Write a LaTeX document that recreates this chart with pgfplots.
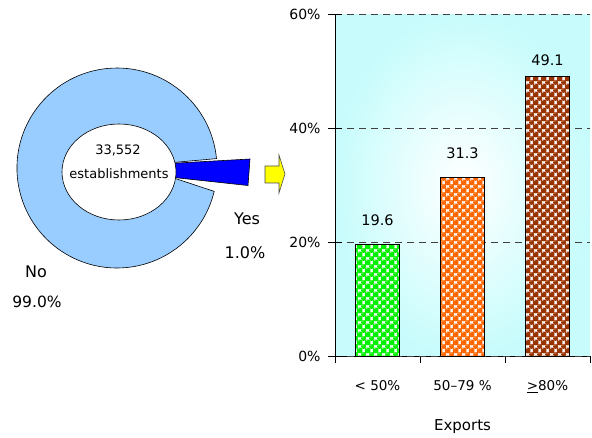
\documentclass[border=0pt]{standalone}
\usepackage{fontspec}
\setmainfont{DejaVu Sans}
\usepackage{pgfplots}
\pgfplotsset{compat=1.18}
\usetikzlibrary{patterns}

\definecolor{ringblue}{HTML}{99CCFF}
\definecolor{wedgeblue}{HTML}{0000FF}
\definecolor{arrowyellow}{HTML}{FFFF00}
\definecolor{bgcyan}{HTML}{C8FCFC}
\definecolor{gridgray}{HTML}{404040}
\definecolor{bargreen}{HTML}{00F000}
\definecolor{barorange}{HTML}{FF6600}
\definecolor{barbrown}{HTML}{993300}

% little balls on a checker, as in the bars
\pgfdeclarepatternformonly{bubbles}{\pgfpointorigin}{\pgfpoint{8bp}{8bp}}{\pgfpoint{8bp}{8bp}}{%
  \pgfpathcircle{\pgfpoint{0bp}{0bp}}{2.8bp}%
  \pgfpathcircle{\pgfpoint{8bp}{0bp}}{2.8bp}%
  \pgfpathcircle{\pgfpoint{0bp}{8bp}}{2.8bp}%
  \pgfpathcircle{\pgfpoint{8bp}{8bp}}{2.8bp}%
  \pgfpathcircle{\pgfpoint{4bp}{4bp}}{2.8bp}%
  \pgfusepath{fill}}
\pgfdeclarepatternformonly{shine}{\pgfpointorigin}{\pgfpoint{8bp}{8bp}}{\pgfpoint{8bp}{8bp}}{%
  \pgfpathcircle{\pgfpoint{3.4bp}{5.6bp}}{0.8bp}%
  \pgfpathcircle{\pgfpoint{7.4bp}{1.6bp}}{0.8bp}%
  \pgfusepath{fill}}

\newcommand\sz[1]{\fontsize{#1bp}{#1bp}\selectfont}
\pgfplotsset{every axis/.append style={font=\sz{14}}}

\begin{document}
\begin{tikzpicture}[font=\sz{13}]
\path (0,0) rectangle (592bp,-438bp);

% donut: 33,552 establishments, No 99.0 %, Yes 1.0 %
\begin{axis}[
    at={(0bp,-438bp)}, anchor=south west,
    scale only axis, width=300bp, height=438bp,
    xmin=0, xmax=300, ymin=-438, ymax=0,
    hide axis, clip=false,
    ]
\filldraw[fill=ringblue, draw=black, line width=0.6bp]
    (axis cs:216.5,-158.6) arc[start angle=5.4, end angle=346.5, radius=100bp]
    -- (axis cs:157,-172.5) -- (axis cs:157,-164) -- cycle;
\filldraw[fill=wedgeblue, draw=black, line width=0.6bp]
    (axis cs:160,-164) -- (axis cs:250,-159) -- (axis cs:248,-185.5) -- (axis cs:160,-176) -- cycle;
\filldraw[fill=white, draw=black, line width=0.6bp]
    (axis cs:119,-172) ellipse[x radius=57bp, y radius=48bp];
\filldraw[fill=arrowyellow, draw=black!70, line width=0.6bp]
    (axis cs:265,-166) -- (axis cs:279,-166) -- (axis cs:279,-155) -- (axis cs:285,-174)
    -- (axis cs:279,-193) -- (axis cs:279,-183) -- (axis cs:265,-183) -- cycle;
\node[font=\sz{13}] at (axis cs:118,-150) {33,552};
\node[font=\sz{13}] at (axis cs:119,-174) {establishments};
\node[font=\sz{16}] at (axis cs:247,-219) {Yes};
\node[font=\sz{16}] at (axis cs:245,-253) {1.0\%};
\node[font=\sz{16}] at (axis cs:36,-272) {No};
\node[font=\sz{15.5}] at (axis cs:37,-302) {99.0\%};
\end{axis}

% share of exports
\begin{axis}[
    at={(335bp,-356bp)}, anchor=south west,
    scale only axis, width=255bp, height=342bp,
    xmin=-0.5, xmax=2.5, ymin=0, ymax=60,
    axis x line*=bottom, axis y line*=left,
    axis line style={black, line width=0.6bp},
    axis background/.style={inner color=white, outer color=bgcyan},
    xtick={-0.5,0.5,1.5,2.5},
    x tick label as interval,
    xticklabels={{< 50\%}, {50--79 \%}, {\underline{>}80\%}},
    xticklabel style={yshift=-14bp, font=\sz{13.5}},
    ytick={0,20,40,60},
    yticklabels={0\%,20\%,40\%,60\%},
    yticklabel style={xshift=-4bp, font=\sz{14}},
    extra y ticks={0,20,40,60},
    extra y tick labels={},
    extra y tick style={tick align=inside},
    tick align=outside,
    major tick length=7bp,
    tick style={black, line width=0.6bp},
    ymajorgrids,
    major grid style={gridgray, line width=0.6bp, dash pattern=on 7bp off 5bp},
    xlabel={Exports},
    every axis x label/.style={at={(axis description cs:0.5,0)}, anchor=center,
      yshift=-71bp, font=\sz{15}},
    /pgf/number format/assume math mode=true,
    /pgf/number format/fixed, /pgf/number format/precision=1, /pgf/number format/fixed zerofill,
    every axis plot/.append style={ybar, bar width=44bp, bar shift=0pt,
      draw=black, line width=0.6bp, preaction={fill=white}},
    nodes near coords,
    every node near coord/.append style={anchor=center, text=black, font=\sz{14.5}},
    ]
\addplot[pattern=bubbles, pattern color=bargreen,
    postaction={pattern=shine, pattern color=white!60!bargreen},
    every node near coord/.append style={yshift=24bp}]
    coordinates {(0,19.6)};
\addplot[pattern=bubbles, pattern color=barorange,
    postaction={pattern=shine, pattern color=white!60!barorange},
    every node near coord/.append style={yshift=24bp}]
    coordinates {(1,31.3)};
\addplot[pattern=bubbles, pattern color=barbrown,
    postaction={pattern=shine, pattern color=white!60!barbrown},
    every node near coord/.append style={yshift=16bp}]
    coordinates {(2,49.1)};
\end{axis}
\end{tikzpicture}
\end{document}
